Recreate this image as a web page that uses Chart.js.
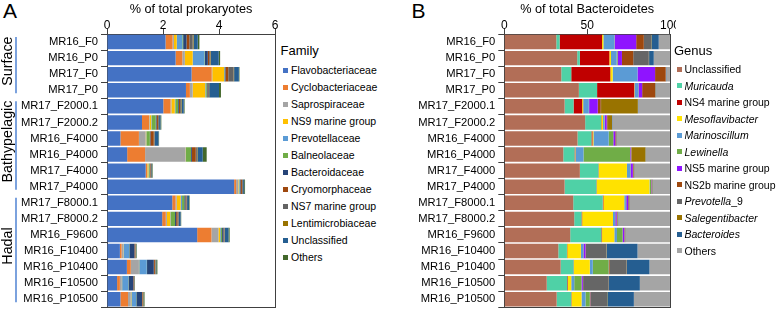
<!DOCTYPE html>
<html><head><meta charset="utf-8">
<script src="https://cdn.jsdelivr.net/npm/chart.js@4.4.0/dist/chart.umd.min.js"></script>
<style>
body{margin:0;width:777px;height:317px;overflow:hidden;background:#fff;font-family:"Liberation Sans",Arial,sans-serif;position:relative;}
canvas{position:absolute;top:0;}
#ca{left:0;}
#cb{left:400px;}
.letter{position:absolute;top:0;font-size:21px;line-height:21px;color:#000;}
.leg{position:absolute;color:#000;}
.leg .t{font-size:13px;line-height:15px;height:15px;}
.leg .r{display:flex;align-items:center;font-size:10.5px;white-space:nowrap;}
.leg .s{display:inline-block;width:5px;height:5px;margin-right:3px;flex:none;}
</style></head>
<body>
<div class="letter" style="left:3px">A</div>
<div class="letter" style="left:411.5px">B</div>
<canvas id="ca" width="280" height="317"></canvas>
<canvas id="cb" width="276" height="317"></canvas>
<div class="leg" id="la" style="left:283px;top:42.5px"></div>
<div class="leg" id="lb" style="left:676.5px;top:42.5px"></div>
<script>
const samples = ["MR16_F0","MR16_P0","MR17_F0","MR17_P0","MR17_F2000.1","MR17_F2000.2","MR16_F4000","MR16_P4000","MR17_F4000","MR17_P4000","MR17_F8000.1","MR17_F8000.2","MR16_F9600","MR16_F10400","MR16_P10400","MR16_F10500","MR16_P10500"];

const groupNames = ["Surface","Bathypelagic","Hadal"];
const groupStart = [0,4,10];
const groupEnd = [3,9,16];

// Panel A: % of total prokaryotes, by family
const familyNames = ["Flavobacteriaceae","Cyclobacteriaceae","Saprospiraceae","NS9 marine group","Prevotellaceae","Balneolaceae","Bacteroidaceae","Cryomorphaceae","NS7 marine group","Lentimicrobiaceae","Unclassified","Others"];
const familyColors = ["#4472C4","#ED7D31","#A5A5A5","#FFC000","#5B9BD5","#70AD47","#264478","#9E480E","#636363","#997300","#255E91","#43682B"];
const flavobacteriaceae = [2.09,2.45,3.02,2.82,2.01,1.25,0.48,0.72,1.38,4.54,2.33,1.97,3.22,0.46,0.71,0.36,0.48];
const cyclobacteriaceae = [0.25,0.24,0.72,0.14,0.26,0.25,0.66,0.64,0.05,0.07,0.12,0.13,0.51,0.06,0.14,0.10,0.27];
const saprospiraceae = [0.05,0.09,0.02,0.10,0.03,0.02,0.24,1.44,0.01,0.08,0.04,0.04,0.25,0.06,0.29,0.07,0.10];
const ns9 = [0.10,0.28,0.42,0.45,0.12,0.06,0.02,0.01,0.04,0.02,0.14,0.12,0.06,0.01,0.01,0.01,0.02];
const prevotellaceae = [0.20,0.42,0.01,0.03,0.02,0.02,0.01,0.01,0.01,0.02,0.05,0.02,0.03,0.20,0.27,0.22,0.17];
const balneolaceae = [0.03,0.02,0.01,0.03,0.10,0.14,0.12,0.18,0.03,0.02,0.08,0.15,0.04,0.01,0.01,0.01,0.01];
const bacteroidaceae = [0.12,0.10,0.03,0.02,0.03,0.03,0.02,0.03,0.02,0.02,0.04,0.04,0.05,0.18,0.24,0.17,0.20];
const cryomorphaceae = [0.10,0.05,0.10,0.02,0.04,0.05,0.12,0.14,0.02,0.05,0.03,0.05,0.02,0.03,0.04,0.02,0.02];
const ns7 = [0.12,0.04,0.19,0.03,0.03,0.03,0.03,0.04,0.01,0.03,0.02,0.04,0.02,0.01,0.02,0.01,0.01];
const lentimicrobiaceae = [0.03,0.02,0.02,0.01,0.02,0.01,0.01,0.02,0.01,0.01,0.01,0.01,0.01,0.01,0.01,0.01,0.02];
const unclassifiedFamily = [0.15,0.28,0.17,0.35,0.08,0.05,0.13,0.19,0.03,0.04,0.07,0.06,0.13,0.01,0.02,0.01,0.02];
const othersFamily = [0.06,0.05,0.02,0.07,0.03,0.03,0.02,0.14,0.02,0.03,0.02,0.02,0.04,0.02,0.04,0.01,0.02];

// Panel B: % of total Bacteroidetes, by genus
const genusNames = ["Unclassified","Muricauda","NS4 marine group","Mesoflavibacter","Marinoscillum","Lewinella","NS5 marine group","NS2b marine group","Prevotella_9","Salegentibacter","Bacteroides","Others"];
const genusItalic = [false,true,false,true,true,true,false,false,true,true,true,false];
const genusColors = ["#B26E57","#4FD1A6","#C00000","#FFE200","#5B9BD5","#70AD47","#8F14FF","#9E480E","#666666","#997300","#255E91","#A5A5A5"];
const unclassifiedGenus = [31.4,44,34.4,45,36.4,48.8,44.2,35.6,45.6,36.4,41.6,42.2,39.8,32.6,34,25.6,31.6];
const muricauda = [2,1.6,6,11,5.4,9.6,8.4,6.8,11.2,19.2,17.8,4.4,18.8,5.2,7.8,12.4,8.8];
const ns4 = [25.6,17.8,23.6,22.4,5.2,0.2,0.6,0.4,0.2,0.2,0.4,0.4,0.4,0.2,0.2,0.4,0.2];
const mesoflavibacter = [0.8,1,1.4,0.2,0.6,1,0.6,0.2,17,31.8,12.6,18.6,7.4,8.2,9.6,2,6];
const marinoscillum = [6.6,3.4,15,2.2,3.4,0.8,9.2,4.8,2,0.2,1,1.2,1.6,1.4,1.8,1.8,2.4];
const lewinella = [0.2,0.6,0,0.2,0.2,0.2,2.8,28.2,0.2,0.8,0.2,0.2,3.4,0.2,9.6,4.4,2.6];
const ns5 = [13,2.6,10.6,2.2,5.2,1.2,1.2,0.4,1.4,0.2,1.2,0.8,1,1.2,0.2,0.8,0.2];
const ns2b = [4.6,6.8,6.4,7.8,1.8,0.6,0.4,0.2,0.4,0.2,0.4,0.4,0.2,0.2,0.4,0.2,0.2];
const prevotella9 = [4.4,9.4,0.2,0.2,0.2,0.2,0.2,0.2,0.2,0.2,0.2,0.2,0.2,12.4,10.2,15.4,10];
const salegentibacter = [0.2,0.2,0,0.2,22.2,2.4,0.2,8.4,0.2,0.2,0.2,0.2,0.2,0.2,0.2,0.2,0.2];
const bacteroides = [4.4,2.8,0.2,0.2,0.2,0.2,0.2,0.2,0.2,0.2,0.2,0.2,0.2,18.6,13.6,18.6,16];
const othersGenus = [6.8,10,2.2,8.4,19.2,34.8,32,14.6,21.4,10.6,24.2,31.2,26.8,19.6,12.4,18.2,21.8];

const familySeries = [flavobacteriaceae,cyclobacteriaceae,saprospiraceae,ns9,prevotellaceae,balneolaceae,bacteroidaceae,cryomorphaceae,ns7,lentimicrobiaceae,unclassifiedFamily,othersFamily];
const genusSeries = [unclassifiedGenus,muricauda,ns4,mesoflavibacter,marinoscillum,lewinella,ns5,ns2b,prevotella9,salegentibacter,bacteroides,othersGenus];

const FONT = '"Liberation Sans", Arial, sans-serif';
Chart.defaults.font.family = FONT;
const AX = '#404040';

const framePlugin = {id:'frame', afterDraw(chart){
  const a = chart.chartArea, ctx = chart.ctx;
  ctx.save(); ctx.strokeStyle = AX; ctx.lineWidth = 1;
  ctx.beginPath();
  ctx.moveTo(Math.round(a.right)+0.5, a.top); ctx.lineTo(Math.round(a.right)+0.5, a.bottom);
  ctx.moveTo(a.left, Math.round(a.bottom)+0.5); ctx.lineTo(a.right+1, Math.round(a.bottom)+0.5);
  ctx.stroke(); ctx.restore();
}};

const groupPlugin = {id:'groups', afterDraw(chart){
  const y = chart.scales.y, ctx = chart.ctx;
  const half = (y.getPixelForValue(1) - y.getPixelForValue(0)) / 2;
  groupNames.forEach((g,i)=>{
    const top = y.getPixelForValue(groupStart[i]) - half;
    const bot = y.getPixelForValue(groupEnd[i]) + half;
    ctx.save();
    ctx.strokeStyle = '#5B8BD6'; ctx.lineWidth = 1.6;
    ctx.beginPath(); ctx.moveTo(16, top+3); ctx.lineTo(16, bot-5); ctx.stroke();
    ctx.translate(8.5, (top+bot)/2 - 5);
    ctx.rotate(-Math.PI/2);
    ctx.font = '14.3px ' + FONT;
    ctx.textAlign = 'center'; ctx.textBaseline = 'middle'; ctx.fillStyle = '#000';
    ctx.fillText(g, 0, 0);
    ctx.restore();
  });
}};

function makeChart(id, names, colors, series, max, step, title, yWidth, plugins){
  return new Chart(document.getElementById(id), {
    type:'bar',
    data:{labels:samples, datasets:names.map((n,i)=>({label:n, data:series[i], backgroundColor:colors[i], borderWidth:0, barPercentage:0.9, categoryPercentage:1}))},
    options:{
      indexAxis:'y', responsive:false, animation:false, devicePixelRatio:1,
      layout:{padding:{top:0,right:5,bottom:1.5,left:0}},
      plugins:{legend:{display:false}, tooltip:{enabled:false}},
      scales:{
        x:{position:'top', stacked:true, min:0, max:max,
           ticks:{stepSize:step, font:{size:12}, color:'#000', padding:-4},
           grid:{drawOnChartArea:false, tickLength:5, color:AX},
           border:{color:AX},
           title:{display:true, text:title, font:{size:12.7}, color:'#000', padding:{top:2,bottom:0}},
           afterFit(s){ s.height = 34; }},
        y:{stacked:true,
           ticks:{font:{size:11.2}, color:'#000', padding:3, autoSkip:false},
           grid:{offset:true, drawOnChartArea:false, tickLength:6, color:AX},
           border:{color:AX},
           afterFit(s){ s.width = yWidth; }}
      }
    },
    plugins:plugins
  });
}

makeChart('ca', familyNames, familyColors, familySeries, 6, 2, '% of total prokaryotes', 107, [framePlugin, groupPlugin]);
makeChart('cb', genusNames, genusColors, genusSeries, 100, 50, '% of total Bacteroidetes', 104.3, [framePlugin]);

function buildLegend(id, title, names, colors, italic, rowH, gap){
  const el = document.getElementById(id);
  let h = '<div class="t" style="margin-left:-2.5px;margin-bottom:'+gap+'px">'+title+'</div>';
  names.forEach((n,i)=>{
    let txt = n;
    if (italic && italic[i]) {
      if (n === 'Prevotella_9') txt = '<i>Prevotella</i>_9'; else txt = '<i>'+n+'</i>';
    }
    h += '<div class="r" style="height:'+rowH+'px"><span class="s" style="background:'+colors[i]+'"></span>'+txt+'</div>';
  });
  el.innerHTML = h;
}
buildLegend('la','Family',familyNames,familyColors,null,17.04,4);
buildLegend('lb','Genus',genusNames,genusColors,genusItalic,16.5,3.5);
</script>
</body></html>
